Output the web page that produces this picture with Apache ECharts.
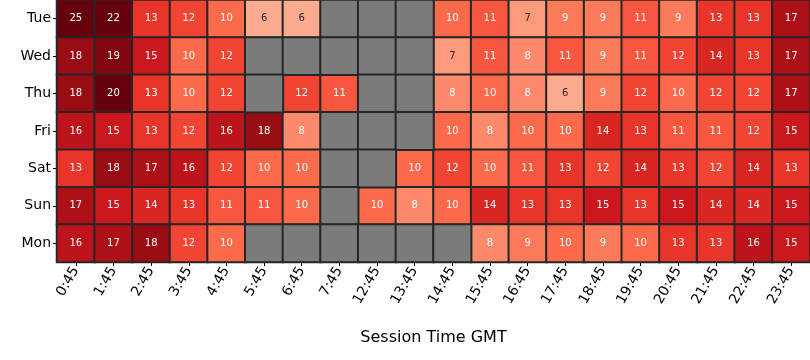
<!DOCTYPE html>
<html>
<head>
<meta charset="utf-8">
<script src="https://cdn.jsdelivr.net/npm/echarts@6/dist/echarts.min.js"></script>
<style>html,body{margin:0;padding:0;background:#fff}#c{width:810px;height:360px}</style>
</head>
<body>
<div id="c"></div>
<script>
const times = ['0:45','1:45','2:45','3:45','4:45','5:45','6:45','7:45','12:45','13:45','14:45','15:45','16:45','17:45','18:45','19:45','20:45','21:45','22:45','23:45'];
const days = ['Tue','Wed','Thu','Fri','Sat','Sun','Mon'];
const Tue = [25,22,13,12,10,6,6,null,null,null,10,11,7,9,9,11,9,13,13,17];
const Wed = [18,19,15,10,12,null,null,null,null,null,7,11,8,11,9,11,12,14,13,17];
const Thu = [18,20,13,10,12,null,12,11,null,null,8,10,8,6,9,12,10,12,12,17];
const Fri = [16,15,13,12,16,18,8,null,null,null,10,8,10,10,14,13,11,11,12,15];
const Sat = [13,18,17,16,12,10,10,null,null,10,12,10,11,13,12,14,13,12,14,13];
const Sun = [17,15,14,13,11,11,10,null,10,8,10,14,13,13,15,13,15,14,14,15];
const Mon = [16,17,18,12,10,null,null,null,null,null,null,8,9,10,9,10,13,13,16,15];
const rows = [Tue, Wed, Thu, Fri, Sat, Sun, Mon];

const values = [], missing = [];
rows.forEach((r, yi) => r.forEach((v, xi) => {
  if (v === null) missing.push([xi, yi, 0]);
  else values.push({value: [xi, yi, v], label: {color: v <= 7 ? '#262626' : '#ffffff'}});
}));

const chart = echarts.init(document.getElementById('c'));
chart.setOption({
  animation: false,
  grid: {left: 57, right: 0, top: 0, bottom: 98},
  xAxis: {
    type: 'category', data: times,
    axisLine: {show: false},
    axisTick: {show: true, alignWithLabel: true, length: 4, lineStyle: {color: '#000'}},
    axisLabel: {rotate: 60, fontSize: 14, color: '#000', fontFamily: 'DejaVu Sans', margin: 6},
    splitArea: {show: false},
    name: 'Session Time GMT', nameLocation: 'middle', nameGap: 68,
    nameTextStyle: {fontSize: 16, color: '#000', fontFamily: 'DejaVu Sans'}
  },
  yAxis: {
    type: 'category', data: days, inverse: true,
    axisLine: {show: false},
    axisTick: {show: true, alignWithLabel: true, length: 4, lineStyle: {color: '#000'}},
    axisLabel: {fontSize: 14, color: '#000', fontFamily: 'DejaVu Sans', margin: 6}
  },
  visualMap: {
    show: false, min: 0, max: 20, seriesIndex: 0, calculable: false,
    inRange: {color: ['#fff5f0','#fee0d2','#fcbba1','#fc9272','#fb6a4a','#ef3b2c','#cb181d','#a50f15','#67000d']}
  },
  series: [
    {
      type: 'heatmap', data: values,
      label: {show: true, fontSize: 10, fontFamily: 'DejaVu Sans'},
      itemStyle: {borderColor: '#262626', borderWidth: 2}
    },
    {
      type: 'heatmap', data: missing,
      label: {show: false},
      itemStyle: {color: '#7b7b7b', borderColor: '#262626', borderWidth: 2}
    }
  ]
});
</script>
</body>
</html>
